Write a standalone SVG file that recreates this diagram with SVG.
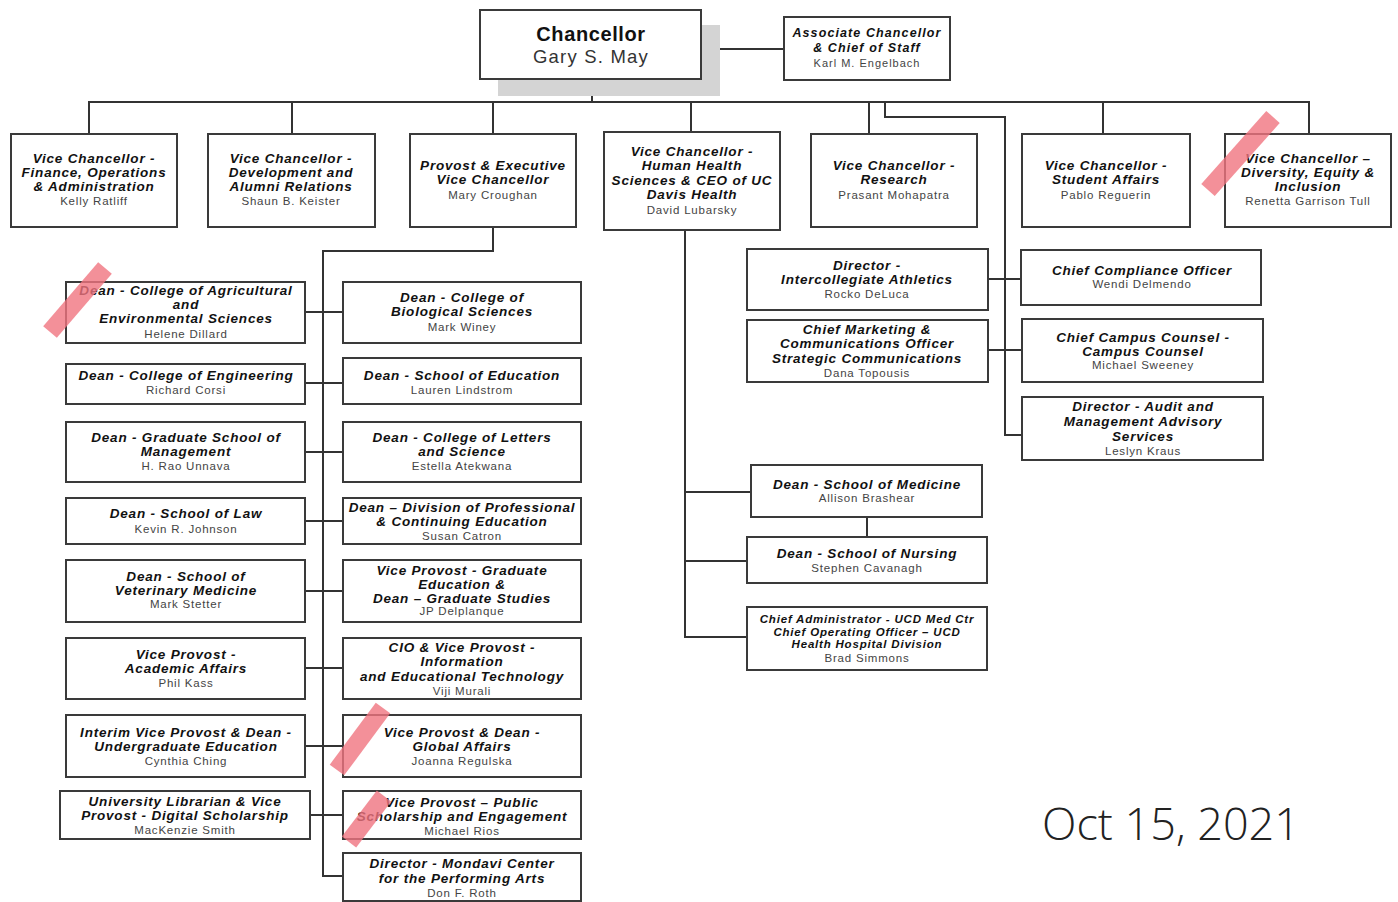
<svg xmlns="http://www.w3.org/2000/svg" width="1398" height="902" viewBox="0 0 1398 902">
<style>
.bx{fill:#fff;stroke:#3a3a3a;stroke-width:2}
.t{font-family:"Liberation Sans",Arial,sans-serif;font-weight:bold;font-style:italic;font-size:13.5px;fill:#111;text-anchor:middle;letter-spacing:0.8px}
.s{font-size:12.5px;letter-spacing:1.1px}
.a{font-size:11.5px;letter-spacing:0.8px}
.n{font-family:"Liberation Sans",Arial,sans-serif;font-size:11.5px;fill:#444;text-anchor:middle;letter-spacing:0.8px}
.c{fill:none;stroke:#333;stroke-width:2}
.hl{stroke:#f07480;stroke-width:18;opacity:0.8;fill:none}
</style>
<rect width="1398" height="902" fill="#fff"/>
<g id="connectors" class="c">
<path d="M592 79V102M89 134V102H1309V134M292 102V134M493 102V134M691 102V132M869 102V134M1103 102V134"/>
<path d="M701 49H784"/>
<path d="M885 102V117H1005V435H1022M988 279H1021M988 350H1022"/>
<path d="M493 227V251H323V876H343"/>
<path d="M305 312H343M305 383H343M305 452H343M305 521H343M305 591H343M305 668H343M305 746H343M310 815H343"/>
<path d="M685 230V637H747M685 492H751M685 561H747M867 517V537"/>
</g>
<g id="chancellor">
<rect x="498" y="25" width="222" height="71" fill="#d4d4d4"/>
<rect class="bx" x="480" y="10" width="221" height="69"/>
<text x="591" y="41" font-family="Liberation Sans,Arial,sans-serif" font-weight="bold" font-size="20" fill="#111" text-anchor="middle" letter-spacing="0.6">Chancellor</text>
<text x="591" y="63" font-family="Liberation Sans,Arial,sans-serif" font-size="18.5" fill="#333" text-anchor="middle" letter-spacing="1.2">Gary S. May</text>
</g>
<g id="assoc">
<rect class="bx" x="784" y="17" width="166" height="63"/>
<text class="t s" x="867" y="37">Associate Chancellor</text>
<text class="t s" x="867" y="52">&amp; Chief of Staff</text>
<text class="n" x="867" y="67" style="font-size:11px;letter-spacing:1px">Karl M. Engelbach</text>
</g>
<g id="vc-finance">
<rect class="bx" x="11" y="134" width="166" height="93"/>
<text class="t" x="94" y="163">Vice Chancellor -</text>
<text class="t" x="94" y="177">Finance, Operations</text>
<text class="t" x="94" y="191">&amp; Administration</text>
<text class="n" x="94" y="205">Kelly Ratliff</text>
</g>
<g id="vc-dev">
<rect class="bx" x="208" y="134" width="167" height="93"/>
<text class="t" x="291" y="163">Vice Chancellor -</text>
<text class="t" x="291" y="177">Development and</text>
<text class="t" x="291" y="191">Alumni Relations</text>
<text class="n" x="291" y="205">Shaun B. Keister</text>
</g>
<g id="provost">
<rect class="bx" x="410" y="134" width="166" height="93"/>
<text class="t" x="493" y="170">Provost &amp; Executive</text>
<text class="t" x="493" y="184">Vice Chancellor</text>
<text class="n" x="493" y="199">Mary Croughan</text>
</g>
<g id="vc-health">
<rect class="bx" x="604" y="132" width="176" height="98"/>
<text class="t" x="692" y="156">Vice Chancellor -</text>
<text class="t" x="692" y="170">Human Health</text>
<text class="t" x="692" y="185">Sciences &amp; CEO of UC</text>
<text class="t" x="692" y="199">Davis Health</text>
<text class="n" x="692" y="214">David Lubarsky</text>
</g>
<g id="vc-research">
<rect class="bx" x="811" y="134" width="166" height="93"/>
<text class="t" x="894" y="170">Vice Chancellor -</text>
<text class="t" x="894" y="184">Research</text>
<text class="n" x="894" y="199">Prasant Mohapatra</text>
</g>
<g id="vc-student">
<rect class="bx" x="1022" y="134" width="168" height="93"/>
<text class="t" x="1106" y="170">Vice Chancellor -</text>
<text class="t" x="1106" y="184">Student Affairs</text>
<text class="n" x="1106" y="199">Pablo Reguerin</text>
</g>
<g id="vc-diversity">
<rect class="bx" x="1225" y="134" width="166" height="93"/>
<text class="t" x="1308" y="163">Vice Chancellor –</text>
<text class="t" x="1308" y="177">Diversity, Equity &amp;</text>
<text class="t" x="1308" y="191">Inclusion</text>
<text class="n" x="1308" y="205">Renetta Garrison Tull</text>
</g>
<g id="dean-agri">
<rect class="bx" x="66" y="282" width="239" height="61"/>
<text class="t" x="186" y="295">Dean - College of Agricultural</text>
<text class="t" x="186" y="309">and</text>
<text class="t" x="186" y="323">Environmental Sciences</text>
<text class="n" x="186" y="338">Helene Dillard</text>
</g>
<g id="dean-eng">
<rect class="bx" x="66" y="364" width="239" height="40"/>
<text class="t" x="186" y="380">Dean - College of Engineering</text>
<text class="n" x="186" y="394">Richard Corsi</text>
</g>
<g id="dean-gsm">
<rect class="bx" x="66" y="422" width="239" height="60"/>
<text class="t" x="186" y="442">Dean - Graduate School of</text>
<text class="t" x="186" y="456">Management</text>
<text class="n" x="186" y="470">H. Rao Unnava</text>
</g>
<g id="dean-law">
<rect class="bx" x="66" y="498" width="239" height="46"/>
<text class="t" x="186" y="518">Dean - School of Law</text>
<text class="n" x="186" y="533">Kevin R. Johnson</text>
</g>
<g id="dean-vet">
<rect class="bx" x="66" y="560" width="239" height="62"/>
<text class="t" x="186" y="581">Dean - School of</text>
<text class="t" x="186" y="595">Veterinary Medicine</text>
<text class="n" x="186" y="608">Mark Stetter</text>
</g>
<g id="vp-academic">
<rect class="bx" x="66" y="638" width="239" height="61"/>
<text class="t" x="186" y="659">Vice Provost -</text>
<text class="t" x="186" y="673">Academic Affairs</text>
<text class="n" x="186" y="687">Phil Kass</text>
</g>
<g id="vp-undergrad">
<rect class="bx" x="66" y="715" width="239" height="62"/>
<text class="t" x="186" y="737">Interim Vice Provost &amp; Dean -</text>
<text class="t" x="186" y="751">Undergraduate Education</text>
<text class="n" x="186" y="765">Cynthia Ching</text>
</g>
<g id="librarian">
<rect class="bx" x="60" y="791" width="250" height="48"/>
<text class="t" x="185" y="806">University Librarian &amp; Vice</text>
<text class="t" x="185" y="820">Provost - Digital Scholarship</text>
<text class="n" x="185" y="834">MacKenzie Smith</text>
</g>
<g id="dean-bio">
<rect class="bx" x="343" y="282" width="238" height="61"/>
<text class="t" x="462" y="302">Dean - College of</text>
<text class="t" x="462" y="316">Biological Sciences</text>
<text class="n" x="462" y="331">Mark Winey</text>
</g>
<g id="dean-edu">
<rect class="bx" x="343" y="358" width="238" height="46"/>
<text class="t" x="462" y="380">Dean - School of Education</text>
<text class="n" x="462" y="394">Lauren Lindstrom</text>
</g>
<g id="dean-ls">
<rect class="bx" x="343" y="422" width="238" height="60"/>
<text class="t" x="462" y="442">Dean - College of Letters</text>
<text class="t" x="462" y="456">and Science</text>
<text class="n" x="462" y="470">Estella Atekwana</text>
</g>
<g id="dean-pce">
<rect class="bx" x="343" y="498" width="238" height="46"/>
<text class="t" x="462" y="512">Dean – Division of Professional</text>
<text class="t" x="462" y="526">&amp; Continuing Education</text>
<text class="n" x="462" y="540">Susan Catron</text>
</g>
<g id="vp-grad">
<rect class="bx" x="343" y="560" width="238" height="62"/>
<text class="t" x="462" y="575">Vice Provost - Graduate</text>
<text class="t" x="462" y="589">Education &amp;</text>
<text class="t" x="462" y="603">Dean – Graduate Studies</text>
<text class="n" x="462" y="615">JP Delplanque</text>
</g>
<g id="cio">
<rect class="bx" x="343" y="638" width="238" height="61"/>
<text class="t" x="462" y="652">CIO &amp; Vice Provost -</text>
<text class="t" x="462" y="666">Information</text>
<text class="t" x="462" y="681">and Educational Technology</text>
<text class="n" x="462" y="695">Viji Murali</text>
</g>
<g id="vp-global">
<rect class="bx" x="343" y="715" width="238" height="62"/>
<text class="t" x="462" y="737">Vice Provost &amp; Dean -</text>
<text class="t" x="462" y="751">Global Affairs</text>
<text class="n" x="462" y="765">Joanna Regulska</text>
</g>
<g id="vp-public">
<rect class="bx" x="343" y="791" width="238" height="48"/>
<text class="t" x="462" y="807">Vice Provost – Public</text>
<text class="t" x="462" y="821">Scholarship and Engagement</text>
<text class="n" x="462" y="835">Michael Rios</text>
</g>
<g id="mondavi">
<rect class="bx" x="343" y="853" width="238" height="48"/>
<text class="t" x="462" y="868">Director - Mondavi Center</text>
<text class="t" x="462" y="883">for the Performing Arts</text>
<text class="n" x="462" y="897">Don F. Roth</text>
</g>
<g id="dir-athletics">
<rect class="bx" x="747" y="249" width="241" height="61"/>
<text class="t" x="867" y="270">Director -</text>
<text class="t" x="867" y="284">Intercollegiate Athletics</text>
<text class="n" x="867" y="298">Rocko DeLuca</text>
</g>
<g id="cmo">
<rect class="bx" x="747" y="320" width="241" height="62"/>
<text class="t" x="867" y="334">Chief Marketing &amp;</text>
<text class="t" x="867" y="348">Communications Officer</text>
<text class="t" x="867" y="363">Strategic Communications</text>
<text class="n" x="867" y="377">Dana Topousis</text>
</g>
<g id="compliance">
<rect class="bx" x="1021" y="250" width="240" height="55"/>
<text class="t" x="1142" y="275">Chief Compliance Officer</text>
<text class="n" x="1142" y="288">Wendi Delmendo</text>
</g>
<g id="counsel">
<rect class="bx" x="1022" y="319" width="241" height="63"/>
<text class="t" x="1143" y="342">Chief Campus Counsel -</text>
<text class="t" x="1143" y="356">Campus Counsel</text>
<text class="n" x="1143" y="369">Michael Sweeney</text>
</g>
<g id="audit">
<rect class="bx" x="1022" y="397" width="241" height="63"/>
<text class="t" x="1143" y="411">Director - Audit and</text>
<text class="t" x="1143" y="426">Management Advisory</text>
<text class="t" x="1143" y="441">Services</text>
<text class="n" x="1143" y="455">Leslyn Kraus</text>
</g>
<g id="dean-med">
<rect class="bx" x="751" y="465" width="231" height="52"/>
<text class="t" x="867" y="489">Dean - School of Medicine</text>
<text class="n" x="867" y="502">Allison Brashear</text>
</g>
<g id="dean-nursing">
<rect class="bx" x="747" y="537" width="240" height="46"/>
<text class="t" x="867" y="558">Dean - School of Nursing</text>
<text class="n" x="867" y="572">Stephen Cavanagh</text>
</g>
<g id="chief-admin">
<rect class="bx" x="747" y="607" width="240" height="63"/>
<text class="t a" x="867" y="623">Chief Administrator - UCD Med Ctr</text>
<text class="t a" x="867" y="636">Chief Operating Officer – UCD</text>
<text class="t a" x="867" y="648">Health Hospital Division</text>
<text class="n" x="867" y="662">Brad Simmons</text>
</g>
<g id="highlights" class="hl">
<path d="M1208 190L1273 117"/>
<path d="M50 332L105 268"/>
<path d="M337 770L383 708"/>
<path d="M349 842L384 796"/>
</g>
<text x="1171" y="840" font-family="Open Sans,Liberation Sans,sans-serif" font-weight="300" font-size="45" fill="#222" text-anchor="middle">Oct 15, 2021</text>
</svg>
